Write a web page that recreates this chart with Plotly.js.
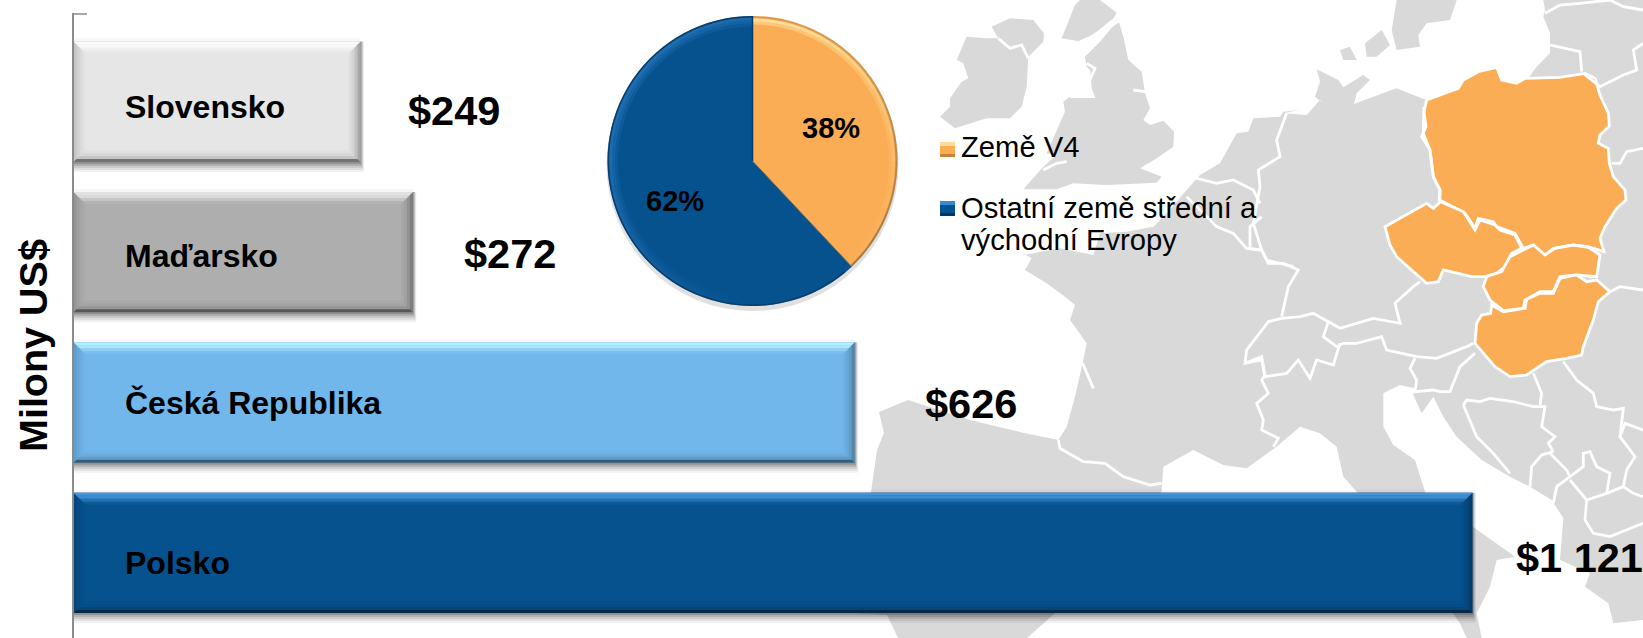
<!DOCTYPE html>
<html><head><meta charset="utf-8">
<script src="https://cdn.plot.ly/plotly-3.0.1.min.js"></script>
<style>html,body{margin:0;padding:0;background:#fff}#c{width:1643px;height:638px}</style>
</head><body><div id="c"></div>
<script>
// ---- data ----
const categories = ['Polsko', 'Česká Republika', 'Maďarsko', 'Slovensko'];
const barLengths = [1121, 626, 272, 230];   // drawn length (the Slovensko bar is drawn shorter than its printed label)
const valueLabels = ['$1 121', '$626', '$272', '$249'];
const barColors = ['#06528F', '#72B7EC', '#AEAEAE', '#E6E6E6'];
const bevelTop = ['#4496DC', '#B4EEFF', '#E2E2E2', '#FCFCFC'];
const pieLabels = ['Země V4', 'Ostatní země střední a východní Evropy'];
const pieValues = [38, 62];
const pieColors = ['#FBAD55', '#06528F'];
const axisTitle = 'Milony US$';

// ---- layout constants ----
const W = 1643, H = 638, X0 = 73.5, PXU = 1.248, YTOP = 13, YR = [-0.566, 3.59];
const YU = (H - YTOP) / (YR[1] - YR[0]);
const px = x => x / W, py = y => 1 - y / H;
const FONT = '"Liberation Sans", Arial, sans-serif';
const shapes = [];

// ---- background map outlines (pixel tracing, purely decorative) ----
const seg = (ox, oy, s) => s.trim().split(/\s+/).map(p => { const [a, b] = p.split(',').map(Number); return [ox + a / 3, oy + b / 3]; });
const pathOf = (pts, close) => 'M' + pts.map(p => px(p[0]).toFixed(5) + ' ' + py(p[1]).toFixed(5)).join('L') + (close ? 'Z' : '');
const GREY = '#D9D9D9', ORANGE = '#FBAD55';
const land = (pts) => shapes.push({ type: 'path', layer: 'below', xref: 'paper', yref: 'paper', path: pathOf(pts, true), fillcolor: GREY, line: { width: 0 } });
const border = (ox, oy, s, w) => shapes.push({ type: 'path', layer: 'below', xref: 'paper', yref: 'paper', path: pathOf(seg(ox, oy, s), false), fillcolor: 'rgba(0,0,0,0)', line: { color: '#fff', width: w || 2.8 } });

land([
  ...seg(900, 0, '370,765 400,760 480,745 580,765 600,700 680,695 760,680 800,640 860,570 900,525 960,490 1010,400 1045,395 1060,355 1140,350 1150,335'),
  ...seg(1200, 0, '300,330 250,340 320,345 360,300 405,345 370,310 345,290 360,245 350,208 415,240 430,262 490,225 510,240 470,280 462,312 520,290 590,265 640,285 680,300 775,265 835,215 890,202 905,240 950,250 985,235 1010,200 1050,160 1050,100 1030,50 1035,30 1030,0 1329,0'),
  ...seg(1300, 330, '1029,870 940,880 925,820 855,770 870,730 780,690 790,565 755,510 690,470 630,440 545,390 470,320 430,260 400,200 365,250 340,195 345,175 300,165 250,190 250,290 280,345 345,390 375,485 400,560 519,590 645,680 590,690 570,770 530,850 545,924 500,924 480,880 350,700 170,485 130,440 110,350 60,310 0,290'),
  ...seg(960, 230, '950,650 860,715 790,705 700,660 610,710 605,785 500,900'),
  [1053, 615], [1027, 638], [898, 638], [887, 615], [850, 613], [871, 492], [877, 450], [884, 433], [879, 412], [908, 400], [970, 420], [1024, 433],
  ...seg(960, 230, '295,630 320,590 345,500 368,400 380,340 330,270 345,225 315,200 260,160 195,120 215,85 190,70')
]);
land(seg(900, 0, '170,180 200,110 260,115 295,115 275,80 330,55 400,60 432,100 430,125 385,170 380,260 365,320 330,355 260,355 165,385 120,350 150,320 150,295 185,245 205,235 190,190'));
land(seg(900, 0, '485,115 525,15 540,0 600,0 650,38 640,55 590,95 545,125'));
land(seg(900, 0, '555,170 600,125 655,60 670,110 685,180 725,215 735,280 750,325 730,360 750,375 790,362 822,395 820,440 770,475 720,505 785,530 770,548 620,555 520,550 470,568 370,568 430,500 470,465 440,460 495,335 490,305 510,290 578,292 570,210 560,200'));
land(seg(1200, 0, '590,0 770,0 750,60 680,70 655,105 660,140 590,150 575,90'));
land(seg(1200, 0, '420,150 450,140 470,180 430,180'));
land(seg(1200, 0, '495,130 545,90 570,135 530,170 500,170'));

const countries = [
  '680,300 775,265 790,240 835,215 890,202 905,240 950,250 975,235 1080,232 1155,220 1185,235 1200,285 1225,340 1228,378 1200,405 1195,430 1225,445 1228,490 1240,530 1275,570 1278,600 1250,625 1215,680 1200,715 1212,755 1165,740 1120,735 1060,745 1035,765 1000,735 970,745 945,700 890,680 880,665 835,655 825,685 795,640 730,605 718,600 720,570 700,530 690,450 665,410 678,380 672,335',
  '555,680 600,655 680,610 700,625 722,605 790,635 825,690 840,660 885,675 900,690 945,705 965,745 935,760 915,800 890,820 855,830 815,830 730,810 715,845 680,850 640,815 590,770 570,735',
  '860,830 905,815 930,770 970,750 1000,735 1035,765 1065,745 1120,735 1165,742 1200,765 1190,830 1130,825 1080,830 1060,875 1020,875 975,900 970,925 910,932 870,900 850,860',
  '875,915 910,935 975,925 980,898 1020,880 1060,880 1080,835 1130,825 1160,845 1190,840 1230,875 1195,905 1180,960 1150,1040 1145,1065 1100,1075 1040,1085 980,1125 930,1130 885,1100 825,1030 830,970 845,945 872,940'
];
countries.forEach(c => shapes.push({ type: 'path', layer: 'below', xref: 'paper', yref: 'paper', path: pathOf(seg(1200, 0, c), true), fillcolor: ORANGE, line: { color: '#fff', width: 2.8 } }));

[
  [900, 0, '660,60 600,100 540,125'], [900, 0, '510,290 580,290 565,250 585,205 560,190'], [900, 0, '295,115 330,145 365,135 385,175'],
  [900, 0, '430,510 470,490 500,485'], [900, 0, '700,270 735,275'], [900, 0, '870,530 950,550 1000,540 1060,570 1080,610'],
  [900, 0, '860,590 950,680 1000,700 1040,745 1085,750'], [900, 0, '1050,740 1050,680 1085,650'],
  [900, 0, '1160,340 1130,420 1140,470 1075,510 1080,560 1060,670 1085,750 1100,780 1180,800'],
  [1200, 0, '145,745 185,750 205,790 250,790 295,810 265,860 245,950'],
  [1200, 0, '245,955 300,950 340,940 420,985 470,970 520,955 600,970 585,910 640,860 660,845'],
  [1200, 0, '672,320 670,400 690,450 700,530 720,570 720,600'],
  [1200, 0, '820,1030 800,1040 710,1075 650,1070 560,1050 545,1010 470,1030 430,1030 410,1040 370,1010 385,965'],
  [1200, 0, '245,955 205,965 140,1050 135,1090 185,1080 195,1130 260,1120 295,1080 330,1135 350,1080 400,1095 420,1030'],
  [1200, 0, '1230,875 1260,860 1329,870'], [1200, 0, '1235,490 1260,490 1280,455 1329,445'],
  [1200, 0, '1150,220 1200,260 1270,225 1310,210 1300,150 1329,130'], [1200, 0, '1050,135 1140,155 1145,215'],
  [1200, 0, '1035,40 1080,15 1140,10 1230,0 1270,20 1329,30'],
  [960, 230, '855,400 905,380 915,435 905,450 925,490 890,520 910,570 905,600 955,625 940,650'],
  [960, 230, '295,630 300,655 370,695 435,700 490,740 570,765 605,760'],
  [960, 230, '368,400 385,440 400,475'],
  [1300, 330, '490,225 500,210 540,215 570,205 640,215 700,230 735,230 725,290 765,320 745,340 760,365'],
  [1300, 330, '490,225 530,320 580,370 630,430'], [1300, 330, '760,365 725,375 695,410 690,470'],
  [1300, 330, '750,370 800,420 810,440 770,470 760,520'],
  [1300, 330, '810,440 850,410 850,370 870,365 890,410 930,430 920,490 860,510 855,570 880,610 930,620 1029,580'],
  [1300, 330, '810,450 860,510'], [1300, 330, '920,490 970,470 1000,490 1029,500'],
  [1300, 330, '970,470 980,420 1005,380 960,320 975,280 1029,300'],
  [1300, 330, '790,95 830,150 880,190 890,230 940,240 970,235 960,320'],
  [1300, 330, '700,130 725,190 720,225'],
  [1300, 330, '345,85 330,115 350,150 345,185 400,180 420,185 450,185 480,110 525,70']
].forEach(b => border(b[0], b[1], b[2]));

// ---- bar bevels and shadows, tied to the bar values ----
const dx = p => p / PXU, dy = p => p / YU;
const STEPS = [0, 3, 6, 9, 12];
categories.forEach((c, i) => {
  const L = barLengths[i], b = i - 0.4, t = i + 0.4;
  const poly = (pts, color, op, layer) => shapes.push({ type: 'path', layer: layer || 'above', xref: 'x', yref: 'y',
    path: 'M' + pts.map(p => p[0].toFixed(3) + ' ' + p[1].toFixed(4)).join('L') + 'Z', fillcolor: color, opacity: op, line: { width: 0 } });
  // soft shadow, below the bars and above the map
  [[10, 0.05], [8, 0.07], [6, 0.09], [4, 0.13], [2, 0.17]].forEach(s => {
    poly([[0, b - dy(s[0])], [L + dx(s[0] * 0.35), b - dy(s[0])], [L + dx(s[0] * 0.35), t], [0, t]], '#000', s[1], 'below');
  });
  poly([[0, t], [L, t], [L, t + dy(3)], [0, t + dy(3)]], '#000', 0.03, 'below');
  const band = (a, z, side, color, op) => {
    const A = dx(a), Z = dx(z), Ay = dy(a), Zy = dy(z);
    if (side === 't') poly([[A, t - Ay], [L - A, t - Ay], [L - Z, t - Zy], [Z, t - Zy]], color, op);
    if (side === 'b') poly([[A, b + Ay], [L - A, b + Ay], [L - Z, b + Zy], [Z, b + Zy]], color, op);
    if (side === 'l') poly([[A, b + Ay], [A, t - Ay], [Z, t - Zy], [Z, b + Zy]], color, op);
    if (side === 'r') poly([[L - A, b + Ay], [L - A, t - Ay], [L - Z, t - Zy], [L - Z, b + Zy]], color, op);
  };
  const top = [1, 0.85, 0.45, 0.12], bot = [0.5, 0.14, 0.06, 0.02], lef = [0.14, 0.09, 0.05, 0.02], rig = [0.28, 0.16, 0.08, 0.03];
  for (let k = 0; k < 4; k++) {
    band(STEPS[k], STEPS[k + 1], 't', bevelTop[i], top[k]);
    band(STEPS[k], STEPS[k + 1], 'b', '#000', bot[k]);
    band(STEPS[k], STEPS[k + 1], 'l', '#000', lef[k]);
    band(STEPS[k], STEPS[k + 1], 'r', '#000', rig[k]);
  }
});

// axis end tick
shapes.push({ type: 'line', layer: 'above', xref: 'paper', yref: 'paper', x0: px(X0), x1: px(87), y0: py(14), y1: py(14), line: { color: '#8C8C8C', width: 1.5 } });

// ---- pie rim ----
const PC = [752.5, 161], PR = 145;
const arc = (a0, a1, r) => { const pts = []; for (let a = a0; a <= a1 + 1e-6; a += (a1 - a0) / 6) pts.push([PC[0] + r * Math.sin(a * Math.PI / 180), PC[1] - r * Math.cos(a * Math.PI / 180)]); return pts; };
const total = pieValues[0] + pieValues[1];
const split = pieValues[0] / total * 360;
shapes.push({ type: 'circle', layer: 'below', xref: 'paper', yref: 'paper', x0: px(PC[0] - PR - 1), x1: px(PC[0] + PR + 1), y0: py(PC[1] - PR + 3), y1: py(PC[1] + PR + 5), fillcolor: '#000', opacity: 0.12, line: { width: 0 } });
const rim = (a0, a1, r, w, color, op) => shapes.push({ type: 'path', layer: 'above', xref: 'paper', yref: 'paper', path: pathOf(arc(a0, a1, r), false), fillcolor: 'rgba(0,0,0,0)', opacity: op, line: { color, width: w } });
for (let a = 0; a < 360; a += 10) {
  const e = Math.min(a + 10, 360), orange = a < split - 5;
  const s0 = Math.max(a, orange ? 0 : split), s1 = orange ? Math.min(e, split) : e;
  if (s1 <= s0) continue;
  const m = (s0 + s1) / 2 * Math.PI / 180, up = (Math.cos(m) + 1) / 2, lf = (1 - Math.sin(m)) / 2;
  if (orange) {
    rim(s0, s1, PR - 4, 3, '#FFE9A6', 0.85 * up * up);
    rim(s0, s1, PR - 7, 3, '#FFE9A6', 0.45 * up * up);
    rim(s0, s1, PR - 1, 2, '#8A6A3A', 0.25 + 0.6 * (1 - up));
  } else {
    const l = Math.max(0, lf * 0.6 + up * 0.5 - 0.3);
    rim(s0, s1, PR - 3, 3, '#3E8FDB', 0.75 * l);
    rim(s0, s1, PR - 6, 3, '#3E8FDB', 0.5 * l);
    rim(s0, s1, PR - 9, 3, '#3E8FDB', 0.25 * l);
    rim(s0, s1, PR - 0.8, 1.6, '#0A2E50', 0.55);
  }
}
const sp = split * Math.PI / 180;
shapes.push({ type: 'line', layer: 'above', xref: 'paper', yref: 'paper', x0: px(PC[0]), y0: py(PC[1]), x1: px(PC[0]), y1: py(PC[1] - PR), line: { color: '#043A68', width: 1.5 } });
shapes.push({ type: 'line', layer: 'above', xref: 'paper', yref: 'paper', x0: px(PC[0]), y0: py(PC[1]), x1: px(PC[0] + PR * Math.sin(sp)), y1: py(PC[1] - PR * Math.cos(sp)), line: { color: '#7A6A50', width: 1 } });

// ---- legend swatches ----
const swatch = (x, y, c, hi, lo) => {
  const s = 15, r = (x0, y0, x1, y1, col, op) => shapes.push({ type: 'rect', layer: 'above', xref: 'paper', yref: 'paper', x0: px(x0), x1: px(x1), y0: py(y0), y1: py(y1), fillcolor: col, opacity: op || 1, line: { width: 0 } });
  r(x, y, x + s, y + s, c);
  r(x, y, x + s, y + 4, hi, 0.9);
  r(x, y + s - 3, x + s, y + s, lo, 0.7);
};
swatch(940, 142, pieColors[0], '#FFE0A0', '#B07028');
swatch(940, 201, pieColors[1], '#3E8FDB', '#032C50');

// ---- text ----
const ann = [];
const txt = (text, x, y, size, bold, opts) => ann.push(Object.assign({ xref: 'paper', yref: 'paper', x: px(x), y: py(y), xanchor: 'left', yanchor: 'middle', showarrow: false, text: bold ? '<b>' + text + '</b>' : text, font: { family: FONT, size, color: '#000' } }, opts || {}));
const catX = 123, catY = [563, 403, 256, 107], valX = [1514, 923, 462, 406], valY = [557, 403, 253, 110];
categories.forEach((c, i) => { txt(c, catX, catY[i], 32, true); txt(valueLabels[i], valX[i], valY[i], 41.5, true); });
txt(axisTitle, 33, 346, 39.5, true, { textangle: -90, xanchor: 'center' });
txt(pieLabels[0], 958.5, 147, 29.2, false);
const legendLines = pieLabels[1].split(' východní ');
txt(legendLines[0], 958.5, 208, 29.2, false);
txt('východní ' + legendLines[1], 958.5, 240, 29.2, false);
const pctCenter = [[831, 128], [675, 201]];
pieValues.forEach((v, i) => txt(Math.round(v / total * 100) + '%', pctCenter[i][0], pctCenter[i][1], 29, true, { xanchor: 'center' }));

const traces = [
  { type: 'bar', orientation: 'h', y: categories, x: barLengths, marker: { color: barColors, line: { width: 0 } }, hoverinfo: 'skip', showlegend: false },
  { type: 'pie', labels: pieLabels, values: pieValues, sort: false, direction: 'clockwise', rotation: 0,
    marker: { colors: pieColors, line: { width: 0 } }, textinfo: 'none', showlegend: false, hoverinfo: 'skip',
    domain: { x: [px(PC[0] - PR), px(PC[0] + PR)], y: [py(PC[1] + PR), py(PC[1] - PR)] } }
];
const layout = {
  width: W, height: H, margin: { l: 0, r: 0, t: 0, b: 0, pad: 0 }, paper_bgcolor: 'rgba(0,0,0,0)', plot_bgcolor: 'rgba(0,0,0,0)',
  showlegend: false, hovermode: false, bargap: 0.2,
  xaxis: { domain: [X0 / W, 1], range: [0, (W - X0) / PXU], visible: false, fixedrange: true },
  yaxis: { domain: [0, py(YTOP)], range: YR, type: 'category', categoryorder: 'array', categoryarray: categories, showline: true, linecolor: '#8C8C8C', linewidth: 1.5, showgrid: false, zeroline: false, ticks: '', showticklabels: false, fixedrange: true },
  shapes, annotations: ann, font: { family: FONT }
};
Plotly.newPlot('c', traces, layout, { staticPlot: true, displayModeBar: false });
</script></body></html>
